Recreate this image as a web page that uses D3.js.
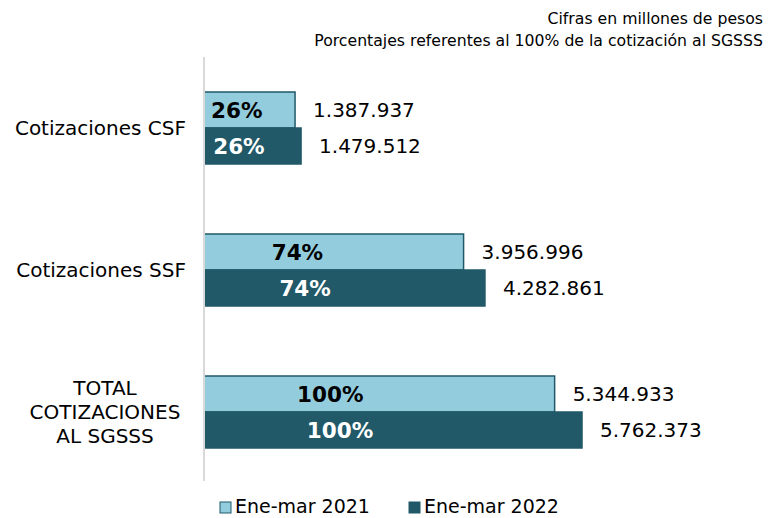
<!DOCTYPE html>
<html>
<head>
<meta charset="utf-8">
<script src="https://cdn.jsdelivr.net/npm/d3@7"></script>
<style>
  body { margin: 0; background: #fff; }
  svg text { font-family: "DejaVu Sans", Verdana, sans-serif; fill: #000; }
</style>
</head>
<body>
<svg class="chart"></svg>
<script>
// DATA /////////////////////////////////
const categories = ["Cotizaciones CSF", "Cotizaciones SSF", "TOTAL COTIZACIONES AL SGSSS"];
const categoryLines = [["Cotizaciones CSF"], ["Cotizaciones SSF"], ["TOTAL", "COTIZACIONES", "AL SGSSS"]];
const seriesNames = ["Ene-mar 2021", "Ene-mar 2022"];
const values2021 = [1387937, 3956996, 5344933];
const values2022 = [1479512, 4282861, 5762373];
const pct2021 = [26, 74, 100];
const pct2022 = [26, 74, 100];
const notes = ["Cifras en millones de pesos", "Porcentajes referentes al 100% de la cotización al SGSSS"];

// DEFINITIONS //////////////////////////
const W = 778, H = 518;
const colors = ["#93cddd", "#215968"];
const fmt = (v) => d3.format(",")(v).replace(/,/g, ".");

const svg = d3.select(".chart").attr("width", W).attr("height", H);

const x = d3.scaleLinear().domain([0, 6000000]).range([204, 597.6]);
const y = d3.scaleBand().domain(categories).range([57, 483]);
const sub = d3.scaleBand().domain(seriesNames).range([-36, 36]);

const rows = categories.map((c, i) => ({
  cat: c,
  bars: [
    { s: seriesNames[0], v: values2021[i], p: pct2021[i] },
    { s: seriesNames[1], v: values2022[i], p: pct2022[i] },
  ],
}));

// header notes
svg.append("g")
  .selectAll("text")
  .data(notes)
  .join("text")
  .attr("x", 763)
  .attr("y", (d, i) => 24 + i * 22)
  .attr("text-anchor", "end")
  .style("font-size", "15.7px")
  .text((d) => d);

// bars
const groups = svg.append("g")
  .selectAll("g")
  .data(rows)
  .join("g")
  .attr("transform", (d) => `translate(0, ${y(d.cat) + y.bandwidth() / 2})`);

groups.selectAll("rect")
  .data((d) => d.bars)
  .join("rect")
  .attr("x", x(0))
  .attr("y", (d) => sub(d.s))
  .attr("width", (d) => x(d.v) - x(0))
  .attr("height", sub.bandwidth())
  .attr("fill", (d, i) => colors[i])
  .attr("stroke", colors[1])
  .attr("stroke-width", 1.5);

// percentage labels inside bars
groups.selectAll(".pct")
  .data((d) => d.bars)
  .join("text")
  .attr("class", "pct")
  .attr("x", (d) => x(0) + (x(d.v) - x(0)) * 0.36)
  .attr("y", (d) => sub(d.s) + sub.bandwidth() / 2)
  .attr("dy", "0.36em")
  .attr("text-anchor", "middle")
  .style("font-size", "21.5px")
  .style("font-weight", "bold")
  .style("fill", (d, i) => (i === 0 ? "#000" : "#fff"))
  .text((d) => `${d.p}%`);

// value labels
groups.selectAll(".val")
  .data((d) => d.bars)
  .join("text")
  .attr("class", "val")
  .attr("x", (d) => x(d.v) + 18)
  .attr("y", (d) => sub(d.s) + sub.bandwidth() / 2)
  .attr("dy", "0.36em")
  .style("font-size", "20px")
  .text((d) => fmt(d.v));

// category labels
svg.append("g")
  .selectAll("text")
  .data(categories)
  .join("text")
  .attr("text-anchor", (d, i) => (categoryLines[i].length > 1 ? "middle" : "end"))
  .attr("x", (d, i) => (categoryLines[i].length > 1 ? 105 : 186))
  .attr("y", (d) => y(d) + y.bandwidth() / 2)
  .style("font-size", "20px")
  .each(function (d, i) {
    const lines = categoryLines[i];
    const t = d3.select(this);
    lines.forEach((l, j) => {
      t.append("tspan")
        .attr("x", t.attr("x"))
        .attr("dy", j === 0 ? `${0.36 - (lines.length - 1) * 0.6}em` : "1.2em")
        .text(l);
    });
  });

// axis line
svg.append("line")
  .attr("x1", x(0))
  .attr("x2", x(0))
  .attr("y1", 57)
  .attr("y2", 481)
  .attr("stroke", "#d9d9d9")
  .attr("stroke-width", 2);

// legend
const legend = svg.append("g")
  .selectAll("g")
  .data(seriesNames)
  .join("g")
  .attr("transform", (d, i) => `translate(${220 + i * 189}, 500)`);

legend.append("rect")
  .attr("y", 2)
  .attr("width", 11)
  .attr("height", 11)
  .attr("fill", (d, i) => colors[i])
  .attr("stroke", colors[1])
  .attr("stroke-width", 1);

legend.append("text")
  .attr("x", 15)
  .attr("y", 6.5)
  .attr("dy", "0.36em")
  .style("font-size", "19px")
  .text((d) => d);
</script>
</body>
</html>
